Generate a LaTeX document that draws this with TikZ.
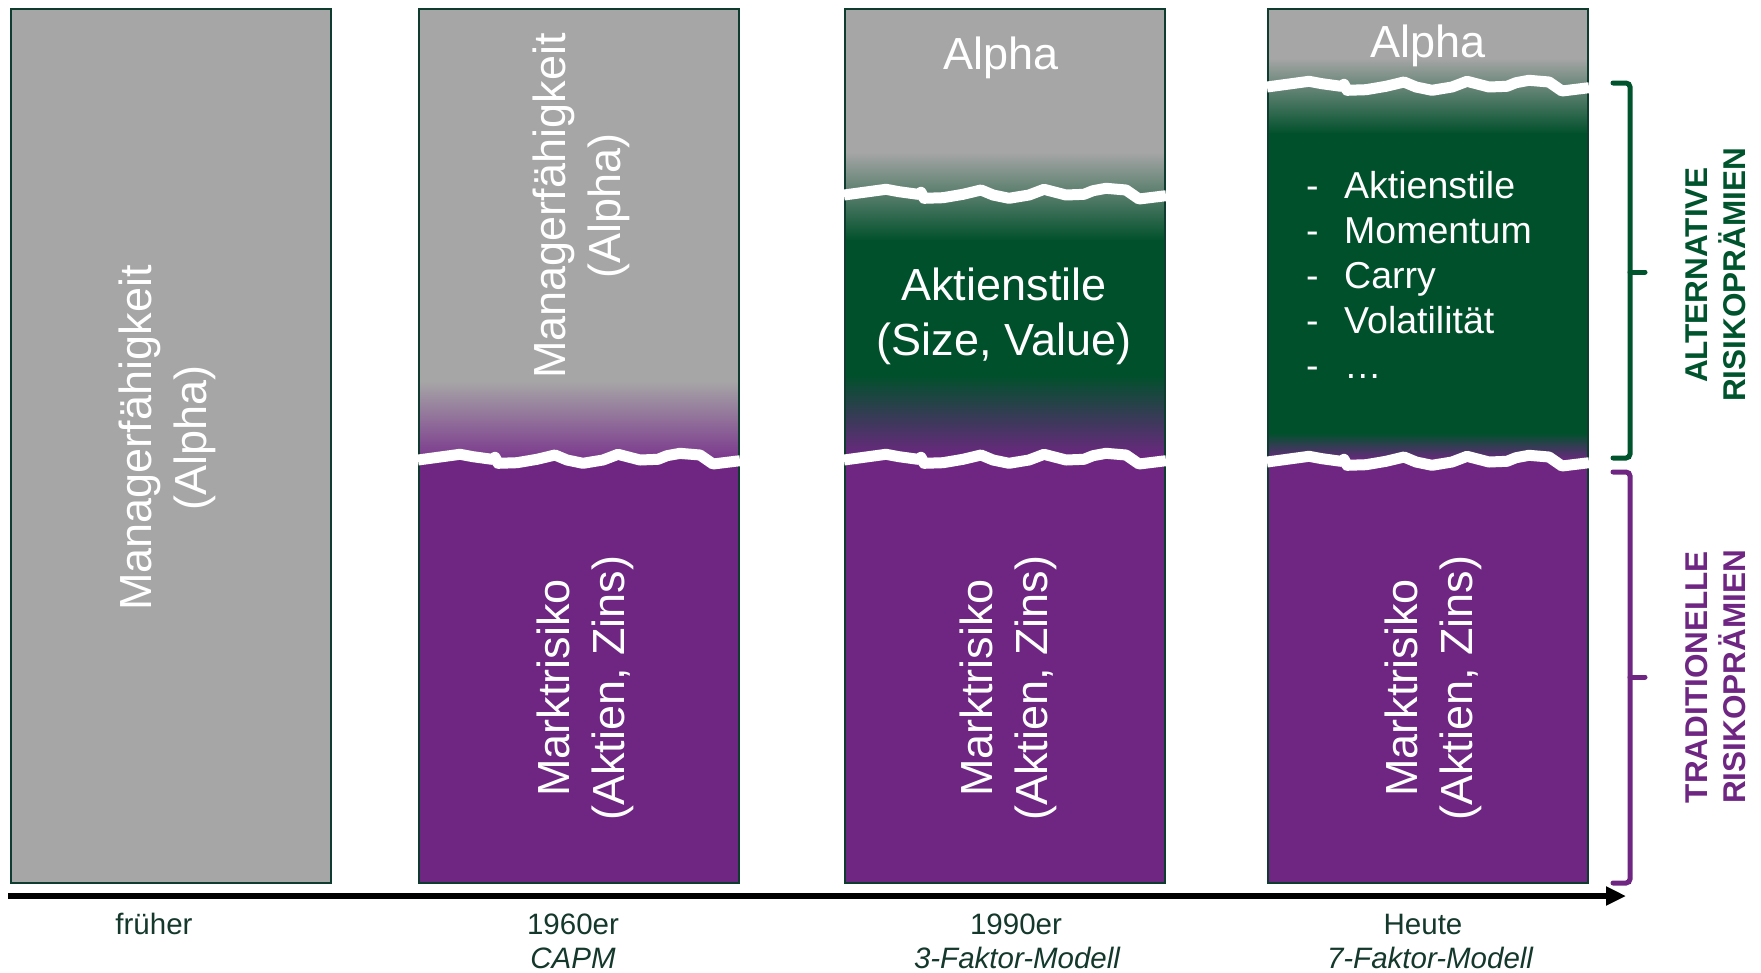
\documentclass[tikz,border=0pt]{standalone}
\usepackage{fontspec}
\setmainfont{Liberation Sans}
\usetikzlibrary{arrows.meta}

\definecolor{colgray}{RGB}{166,166,166}
\definecolor{colpurple}{RGB}{111,38,131}
\definecolor{colgreen}{RGB}{0,80,43}
\definecolor{colborder}{RGB}{14,60,46}
\definecolor{labelcol}{RGB}{20,56,44}
\definecolor{bracegreen}{RGB}{0,84,45}

% jagged white "torn paper" line across a column, #1 = left edge, #2 = height
\newcommand\tornedge[2]{%
  \begin{scope}[shift={(#1,#2)}]
    \draw[tear] (-1,2) -- (41,-3.7) -- (54,-1.3) -- (73,1.3) -- (76,-0.7)
      -- (79,5.3) -- (98,4.7) -- (118,1.3) -- (136,-3) -- (148,2) -- (164,5.3)
      -- (184,2) -- (199,-3.7) -- (221,2) -- (239,1.3) -- (248,-2.3)
      -- (261,-4.7) -- (281,-3) -- (294,6) -- (321,2.7);
  \end{scope}}

\begin{document}
\begin{tikzpicture}[x=1pt,y=-1pt,
  tear/.style={white,line width=11pt,line join=round},
  colframe/.style={draw=colborder,line width=1.6pt},
  coltext/.style={text=white,font=\fontsize{45}{55}\selectfont,align=center,inner sep=0pt},
  listtext/.style={text=white,font=\fontsize{37.5}{45}\selectfont,inner sep=0pt,anchor=base west},
  eralabel/.style={text=labelcol,font=\fontsize{29.5}{35}\selectfont,inner sep=0pt,anchor=base},
  modellabel/.style={eralabel,font=\fontsize{29.5}{35}\selectfont\itshape},
  sidelabel/.style={font=\fontsize{31.5}{38}\selectfont\bfseries,align=center,inner sep=0pt,rotate=90},
  bracket/.style={line width=5pt,rounded corners=4pt,line cap=round},
  axis/.style={line width=6.5pt,-{Triangle[length=20pt,width=18pt]}}]

\useasboundingbox (0,0) rectangle (1761,972);

% ---- column 1: earlier ----
\fill[colgray] (11,9) rectangle (331,883);
\draw[colframe] (11,9) rectangle (331,883);

% ---- column 2: 1960s, CAPM ----
\fill[colpurple] (419,9) rectangle (739,883);
\fill[colgray] (419,9) rectangle (739,382);
\shade[top color=colgray,bottom color=colpurple!92!white] (419,381) rectangle (739,459);
\draw[colframe] (419,9) rectangle (739,883);
\tornedge{419}{458}

% ---- column 3: 1990s, 3-factor model ----
\fill[colpurple] (845,9) rectangle (1165,883);
\fill[colgray] (845,9) rectangle (1165,153);
\shade[top color=colgray,bottom color=colgreen] (845,152) rectangle (1165,241);
\fill[colgreen] (845,240) rectangle (1165,376);
\shade[top color=colgreen,bottom color=colpurple] (845,375) rectangle (1165,459);
\draw[colframe] (845,9) rectangle (1165,883);
\tornedge{845}{193}
\tornedge{845}{458}

% ---- column 4: today, 7-factor model ----
\fill[colpurple] (1268,9) rectangle (1588,883);
\fill[colgray] (1268,9) rectangle (1588,59);
\shade[top color=colgray,bottom color=colgreen] (1268,58) rectangle (1588,134);
\fill[colgreen] (1268,133) rectangle (1588,434);
\shade[top color=colgreen,bottom color=colpurple] (1268,433) rectangle (1588,461);
\draw[colframe] (1268,9) rectangle (1588,883);
\tornedge{1268}{85}
\tornedge{1268}{460}

% ---- texts inside the columns ----
\node[coltext,rotate=90] (alpha1) at (167,438) {Managerfähigkeit\\(Alpha)};
\node[coltext,rotate=90] (alpha2) at (581,206) {Managerfähigkeit\\(Alpha)};
\node[coltext,rotate=90] (market2) at (585,688) {Marktrisiko\\(Aktien, Zins)};
\node[coltext,rotate=90] (market3) at (1008,688) {Marktrisiko\\(Aktien, Zins)};
\node[coltext,rotate=90] (market4) at (1433,688) {Marktrisiko\\(Aktien, Zins)};
\node[coltext] (alpha3) at (1001,58) {Alpha};
\node[coltext] (alpha4) at (1428,46) {Alpha};
\node[coltext] (styles3) at (1004,316) {Aktienstile\\(Size, Value)};

\foreach \item [count=\i] in {Aktienstile,Momentum,Carry,Volatilität,…}{
  \node[listtext] (dash\i) at (1306,{153+45*\i}) {-};
  \node[listtext] (item\i) at (1344,{153+45*\i}) {\item};
}

% ---- time axis ----
\coordinate (axstart) at (8,896);
\coordinate (axend) at (1626,896);
\draw[axis] (axstart) -- (axend);

\node[eralabel] (era1) at (154,934) {früher};
\node[eralabel] (era2) at (573,934) {1960er};
\node[modellabel] (model2) at (573,968) {CAPM};
\node[eralabel] (era3) at (1016,934) {1990er};
\node[modellabel] (model3) at (1017,968) {3-Faktor-Modell};
\node[eralabel] (era4) at (1423,934) {Heute};
\node[modellabel] (model4) at (1430,968) {7-Faktor-Modell};

% ---- brackets with side labels ----
\draw[bracket,bracegreen] (1613,83) -- (1630,83) -- (1630,458) -- (1613,458);
\draw[bracket,bracegreen] (1630,272) -- (1645,272);
\draw[bracket,colpurple] (1613,472) -- (1630,472) -- (1630,883) -- (1613,883);
\draw[bracket,colpurple] (1630,677) -- (1645,677);

\node[sidelabel,text=bracegreen] (altlabel) at (1716,275) {ALTERNATIVE\\RISIKOPRÄMIEN};
\node[sidelabel,text=colpurple] (tradlabel) at (1716,677) {TRADITIONELLE\\RISIKOPRÄMIEN};

\end{tikzpicture}
\end{document}
